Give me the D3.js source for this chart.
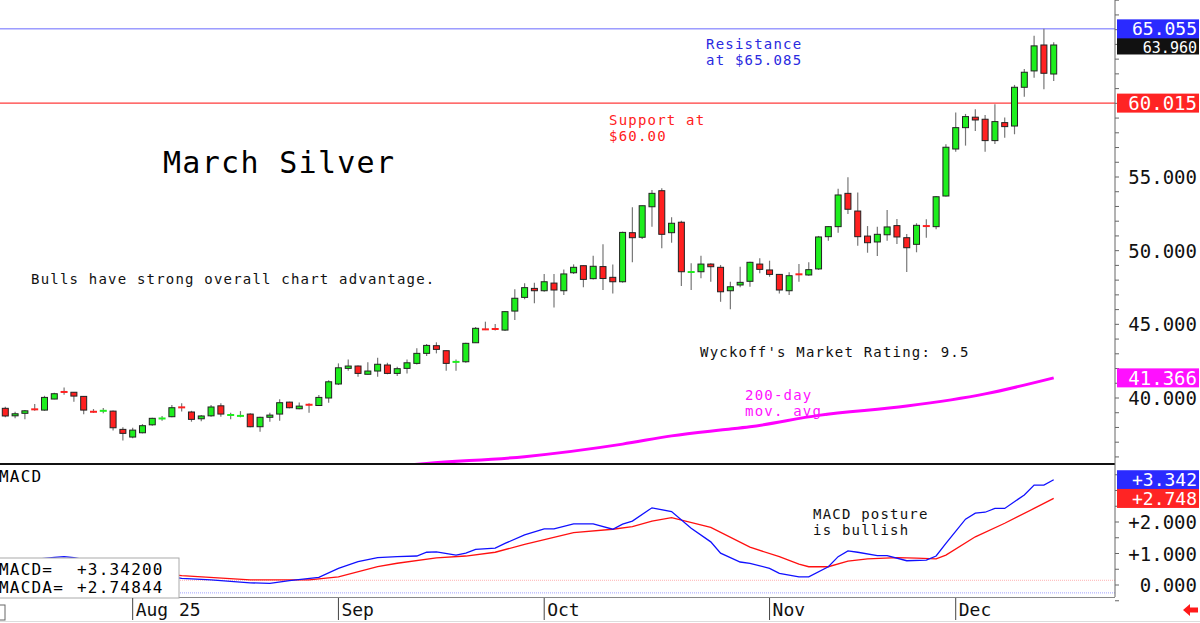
<!DOCTYPE html>
<html><head><meta charset="utf-8">
<script src="https://cdn.jsdelivr.net/npm/d3@7"></script>
<style>body{margin:0;background:#fff}svg{display:block;font-family:"DejaVu Sans Mono","Liberation Mono",monospace}</style>
</head><body><svg id="c" width="1200" height="623"></svg>
<script>
// ---- data (daily candles, index 1..108) ----
const openP  = [39.30,38.79,38.96,39.25,39.18,39.93,40.43,40.39,40.11,39.11,39.11,39.11,37.87,37.35,37.64,38.18,38.60,38.73,39.39,39.05,38.59,38.79,39.47,38.83,38.73,38.91,38.05,38.69,38.91,39.72,39.27,39.56,39.49,40.00,40.95,42.01,42.17,41.61,41.83,42.24,41.67,42.01,42.35,43.03,43.55,43.21,42.39,42.46,43.75,44.68,44.72,44.61,45.90,46.83,47.44,47.28,47.80,47.28,48.50,48.98,48.10,48.92,48.19,47.89,51.22,50.91,52.98,54.07,51.22,51.93,48.50,48.57,49.09,48.87,47.28,47.67,47.92,49.09,48.69,48.39,47.28,48.42,48.35,48.76,50.95,51.63,53.89,52.69,50.99,50.59,51.08,51.70,50.88,50.43,51.69,51.63,53.71,56.90,58.35,59.06,58.92,57.47,58.69,58.46,61.09,62.20,63.96,61.99];
const highP  = [39.41,39.07,39.18,39.59,40.15,40.36,40.72,40.41,40.13,39.25,39.32,39.15,38.01,37.98,38.23,38.66,38.77,39.52,39.64,39.13,38.84,39.52,39.64,39.00,39.11,38.96,38.73,39.00,39.91,39.75,39.70,39.64,40.20,41.20,42.35,42.62,42.20,42.42,42.73,42.39,42.12,42.62,43.37,43.66,43.78,43.22,42.62,43.75,44.82,45.18,45.02,45.90,47.38,47.78,47.82,48.42,48.42,48.73,49.07,48.99,49.66,50.43,49.06,51.29,52.94,53.07,54.12,54.23,52.27,52.03,49.14,49.66,49.14,49.03,47.89,48.91,49.25,49.48,49.32,48.42,48.53,49.09,49.21,51.00,51.67,54.21,54.98,53.94,51.67,51.63,52.76,52.15,51.13,51.86,52.13,53.71,57.22,59.37,59.28,59.60,59.21,59.94,59.03,61.25,62.33,64.58,65.055,64.15];
const lowP   = [38.69,38.62,38.55,39.13,39.13,39.91,40.22,39.75,38.89,38.98,38.96,37.80,37.12,37.26,37.60,38.12,38.46,38.69,39.09,38.39,38.43,38.73,38.73,38.55,38.69,38.01,37.71,38.39,38.46,39.30,39.23,39.00,39.45,39.68,40.88,41.85,41.44,41.59,41.44,41.61,41.49,41.67,42.28,42.85,43.03,41.85,41.85,42.39,43.73,44.61,44.58,44.55,45.29,46.70,46.43,47.21,46.15,46.99,48.42,47.51,48.05,47.33,47.10,47.83,49.21,50.79,51.63,50.16,50.54,47.60,47.33,48.12,47.89,46.53,46.02,47.51,47.55,48.46,48.23,47.10,46.99,47.89,48.30,48.69,50.68,51.22,52.49,50.34,49.86,49.64,50.68,50.45,48.55,49.89,50.88,51.45,53.68,56.72,57.13,58.13,56.72,57.24,57.67,57.90,60.45,61.74,60.96,61.52];
const closeP = [38.78,38.93,39.13,39.21,40.04,40.29,40.39,40.13,39.18,39.02,39.15,37.98,37.60,37.82,38.12,38.62,38.62,39.34,39.34,38.55,38.78,39.39,38.91,38.86,38.84,38.05,38.69,38.84,39.68,39.34,39.45,39.52,40.04,41.10,42.05,42.17,41.67,41.83,42.29,41.67,41.99,42.39,43.03,43.57,43.30,42.35,42.51,43.71,44.73,44.64,44.65,45.86,46.77,47.49,47.28,47.89,47.33,48.42,48.87,48.05,48.94,48.11,47.89,51.24,50.88,53.05,53.89,51.11,51.86,48.57,48.60,49.09,48.91,47.21,47.55,47.85,49.21,48.73,48.39,47.33,48.30,48.37,48.71,50.93,51.63,53.78,52.81,50.95,50.54,51.11,51.61,50.93,50.20,51.72,51.65,53.66,57.02,58.35,59.10,58.87,57.47,58.76,58.42,61.09,62.11,63.90,62.04,63.96];

// 200-day moving average, read at candle positions
const maIdx = [38,44,54,64,69,74,77,84,93,101,108];
const maVal = [35.20,35.56,36.02,36.87,37.43,37.83,38.05,38.82,39.45,40.28,41.366];

// MACD (blue) and MACDA (red) lines
const macdIdx = [1,3,6,7,8,10,13,16,19,22,26,28,30,33,35,37,39,41,43,44,45,47,48,49,51,52,54,56,57,59,61,63,64,65,67,69,71,73,74,76,77,79,80,82,83,85,86,87,88,90,91,93,95,96,97,99,100,101,102,103,105,106,107,108];
const macdVal = [0.70,0.78,0.88,0.90,0.87,0.75,0.55,0.35,0.21,0.16,0.07,0.05,0.14,0.24,0.53,0.74,0.87,0.90,0.92,1.04,1.05,0.95,1.01,1.13,1.17,1.32,1.59,1.78,1.78,1.94,1.94,1.77,1.93,2.03,2.45,2.33,1.80,1.37,1.01,0.73,0.69,0.53,0.37,0.26,0.26,0.58,0.90,1.08,1.04,0.93,0.93,0.77,0.79,0.92,1.32,2.09,2.28,2.31,2.43,2.43,2.86,3.17,3.17,3.342];
const macdaIdx = [1,8,14,19,26,32,35,39,41,45,48,51,54,59,63,65,67,69,73,77,80,82,83,85,87,89,92,94,96,97,100,103,106,108];
const macdaVal = [0.60,0.62,0.45,0.30,0.16,0.16,0.26,0.58,0.69,0.86,0.92,1.04,1.29,1.66,1.77,1.85,2.03,2.14,1.83,1.20,0.90,0.66,0.58,0.58,0.76,0.83,0.87,0.85,0.83,0.95,1.53,1.96,2.43,2.748];

const priceTicks = [40,45,50,55];
const macdTicks = [0,1,2];
const monthLabels = ["Aug 25","Sep","Oct","Nov","Dec"];
const monthIdx = [14,35,56,79,98];

// ---- scales ----
const svg = d3.select("#c");
const axisX = 1115;
const x = d3.scaleLinear().domain([1,108]).range([5.3,1053.7]);
const y = d3.scaleLinear().domain([40,55]).range([398,177]);
const ym = d3.scaleLinear().domain([0,2]).range([585,522]);

const defs = svg.append("defs");
defs.append("clipPath").attr("id","cp1").append("rect").attr("x",0).attr("y",0).attr("width",axisX).attr("height",463);
defs.append("clipPath").attr("id","cp2").append("rect").attr("x",0).attr("y",465).attr("width",axisX).attr("height",132);

svg.append("rect").attr("width",1200).attr("height",623).attr("fill","#fff");

// ---- main panel ----
const main = svg.append("g").attr("clip-path","url(#cp1)");
main.append("line").attr("x1",0).attr("x2",axisX).attr("y1",y(65.055)).attr("y2",y(65.055)).attr("stroke","#6a6aff").attr("stroke-width",1);
main.append("line").attr("x1",0).attr("x2",axisX).attr("y1",y(60.015)).attr("y2",y(60.015)).attr("stroke","#ff3b3b").attr("stroke-width",1.2);

// 200-day MA
main.append("path").datum(maIdx.map((d,i)=>[d,maVal[i]]))
  .attr("d", d3.line().x(d=>x(d[0])).y(d=>y(d[1])).curve(d3.curveMonotoneX))
  .attr("fill","none").attr("stroke","#ff00ff").attr("stroke-width",3);

// candles
const candles = openP.map((o,i)=>({i:i+1,o,h:highP[i],l:lowP[i],c:closeP[i]}));
const cg = main.append("g");
cg.selectAll("line.wick").data(candles).join("line")
  .attr("x1",d=>x(d.i)).attr("x2",d=>x(d.i))
  .attr("y1",d=>y(d.h)).attr("y2",d=>y(d.l))
  .attr("stroke","#777").attr("stroke-width",1.2);
const bw = 6;
candles.forEach(d=>{
  const up = d.c >= d.o;
  const top = y(Math.max(d.o,d.c)), bot = y(Math.min(d.o,d.c));
  const col = up ? "#1dee1d" : "#ff2020";
  if (bot - top < 2) {
    cg.append("line").attr("x1",x(d.i)-bw/2-0.5).attr("x2",x(d.i)+bw/2+0.5)
      .attr("y1",(top+bot)/2).attr("y2",(top+bot)/2).attr("stroke",col).attr("stroke-width",2);
  } else {
    cg.append("rect").attr("x",x(d.i)-bw/2).attr("y",top).attr("width",bw).attr("height",bot-top)
      .attr("fill",col).attr("stroke","#222").attr("stroke-width",1);
  }
});

// panel separator
svg.append("line").attr("x1",0).attr("x2",axisX).attr("y1",464).attr("y2",464).attr("stroke","#111").attr("stroke-width",2);

// ---- MACD panel ----
const mp = svg.append("g").attr("clip-path","url(#cp2)");
mp.append("line").attr("x1",0).attr("x2",axisX).attr("y1",ym(0.15)).attr("y2",ym(0.15)).attr("stroke","#ffb0b0").attr("stroke-width",1).attr("stroke-dasharray","1,1");
mp.append("line").attr("x1",0).attr("x2",axisX).attr("y1",ym(-0.25)).attr("y2",ym(-0.25)).attr("stroke","#a0a0ff").attr("stroke-width",1).attr("stroke-dasharray","1,1");
mp.append("path").datum(macdaIdx.map((d,i)=>[d,macdaVal[i]]))
  .attr("d", d3.line().x(d=>x(d[0])).y(d=>ym(d[1])))
  .attr("fill","none").attr("stroke","#ff1010").attr("stroke-width",1.3);
mp.append("path").datum(macdIdx.map((d,i)=>[d,macdVal[i]]))
  .attr("d", d3.line().x(d=>x(d[0])).y(d=>ym(d[1])))
  .attr("fill","none").attr("stroke","#1010ff").attr("stroke-width",1.3);

svg.append("line").attr("x1",0).attr("x2",axisX).attr("y1",597.5).attr("y2",597.5).attr("stroke","#888").attr("stroke-width",1);

// MACD value box
svg.append("rect").attr("x",-2).attr("y",558).attr("width",181).attr("height",40).attr("fill","#fff").attr("stroke","#aaa");
const bt = svg.append("g").attr("font-size",16).attr("letter-spacing",1.2).attr("fill","#000");
bt.append("text").attr("x",-1).attr("y",575).text("MACD=");
bt.append("text").attr("x",77).attr("y",575).text("+3.34200");
bt.append("text").attr("x",-1).attr("y",593).text("MACDA=");
bt.append("text").attr("x",77).attr("y",593).text("+2.74844");
svg.append("text").attr("x",-1).attr("y",482).attr("font-size",16).attr("letter-spacing",1.2).text("MACD");

// ---- right axis ----
svg.append("line").attr("x1",axisX).attr("x2",axisX).attr("y1",0).attr("y2",597).attr("stroke","#666");
const minorP = d3.range(36,68,1);
svg.append("g").selectAll("line").data(minorP).join("line")
  .attr("x1",axisX).attr("x2",axisX+4).attr("y1",d=>y(d)).attr("y2",d=>y(d)).attr("stroke","#666");
const minorM = d3.range(-0.5,4,0.5);
svg.append("g").selectAll("line").data(minorM).join("line")
  .attr("x1",axisX).attr("x2",axisX+4).attr("y1",d=>ym(d)).attr("y2",d=>ym(d)).attr("stroke","#666");

const ax = svg.append("g").attr("font-size",19).attr("text-anchor","end");
ax.selectAll("text.p").data(priceTicks).join("text").attr("class","p")
  .attr("x",1197).attr("y",d=>y(d)+7).attr("fill","#111").text(d=>d3.format(".3f")(d));
ax.selectAll("text.m").data(macdTicks).join("text").attr("class","m")
  .attr("x",1197).attr("y",d=>ym(d)+7).attr("fill","#111").text(d=>(d>0?"+":"")+d3.format(".3f")(d));

function tag(val, scale, bg, txt, fs, dy){
  const cy = scale(val);
  ax.append("rect").attr("x",1117).attr("y",cy-9.5).attr("width",82).attr("height",19).attr("fill",bg);
  ax.append("text").attr("x",1197).attr("y",cy+(dy!=null?dy:(fs||19)*0.37)).attr("font-size",fs||19).attr("fill","#fff").text(txt);
}
tag(63.96, y, "#111", "63.960", 15, 8.3);
tag(65.055, y, "#2a2aff", "65.055", 18, 6.1);
tag(60.015, y, "#ff2424", "60.015");
tag(41.366, y, "#ff10ff", "41.366");
tag(3.342, ym, "#2a2aff", "+3.342", 18);
tag(2.748, ym, "#ff2424", "+2.748", 18);

// ---- x axis (months) ----
const xa = svg.append("g");
xa.selectAll("line").data(monthIdx).join("line")
  .attr("x1",d=>x(d)).attr("x2",d=>x(d)).attr("y1",598).attr("y2",620).attr("stroke","#444");
xa.selectAll("text").data(monthLabels).join("text")
  .attr("x",(d,i)=>x(monthIdx[i])+3).attr("y",616).attr("font-size",18).attr("fill","#111")
  .text(d=>d);
svg.append("line").attr("x1",0).attr("x2",1200).attr("y1",621.5).attr("y2",621.5).attr("stroke","#ddd");
svg.append("rect").attr("x",-4).attr("y",605).attr("width",9).attr("height",15).attr("fill","none").attr("stroke","#666");
svg.append("path").attr("d","M1183,610 L1190,604 L1190,607.5 L1198,607.5 L1198,612.5 L1190,612.5 L1190,616 Z").attr("fill","#ff1a1a");

// ---- annotations ----
const an = svg.append("g").attr("font-size",14).attr("letter-spacing",1.2);
an.append("text").attr("x",706).attr("y",49).attr("fill","#2a2ae0").text("Resistance");
an.append("text").attr("x",706).attr("y",65).attr("fill","#2a2ae0").text("at $65.085");
an.append("text").attr("x",609).attr("y",125).attr("fill","#ff2020").text("Support at");
an.append("text").attr("x",609).attr("y",141).attr("fill","#ff2020").text("$60.00");
an.append("text").attr("x",163).attr("y",173).attr("font-size",30).attr("letter-spacing",1.3).attr("fill","#000").text("March Silver");
an.append("text").attr("x",31).attr("y",284).attr("fill","#111").text("Bulls have strong overall chart advantage.");
an.append("text").attr("x",700).attr("y",357).attr("fill","#111").text("Wyckoff's Market Rating: 9.5");
an.append("text").attr("x",745).attr("y",400).attr("fill","#ff10ff").text("200-day");
an.append("text").attr("x",745).attr("y",416).attr("fill","#ff10ff").text("mov. avg.");
an.append("text").attr("x",813).attr("y",519).attr("fill","#111").text("MACD posture");
an.append("text").attr("x",813).attr("y",535).attr("fill","#111").text("is bullish");
</script></body></html>
